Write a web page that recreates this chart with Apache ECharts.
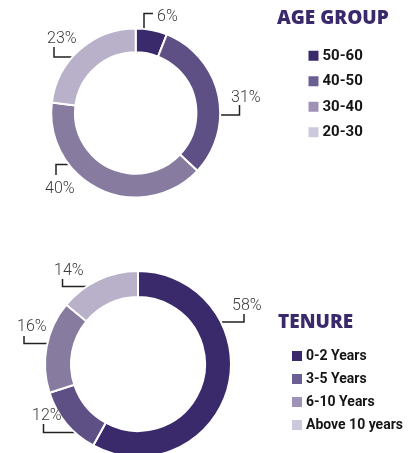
<!DOCTYPE html>
<html>
<head>
<meta charset="utf-8">
<script src="https://cdn.jsdelivr.net/npm/echarts@6/dist/echarts.min.js"></script>
<style>
  html, body { margin: 0; padding: 0; background: #fff; }
  #chart { width: 417px; height: 453px; }
</style>
</head>
<body>
<div id="chart"></div>
<script>
// data
const ageGroups = ['50-60', '40-50', '30-40', '20-30'];
const ageValues = [6, 31, 40, 23];
const tenureGroups = ['0-2 Years', '3-5 Years', '6-10 Years', 'Above 10 years'];
const tenureValues = [58, 12, 16, 14];

const pieColors = ['#3a2a6c', '#5e5085', '#877b9f', '#b9b1ca'];
const legendColors = ['#3b2a6b', '#6b5e95', '#9e93b7', '#cdc9dc'];

// label text anchor + leader line (start in ring, elbow, end)
const ageLabelPos = [
  { x: 157, y: 16.5, line: [[144, 35], [144, 13.5], [153, 13.5]] },
  { x: 231, y: 97.5, line: [[216, 115], [239.5, 115], [239.5, 105]] },
  { x: 45, y: 188.5, line: [[89, 164.5], [56, 164.5], [56, 175]] },
  { x: 47, y: 39, line: [[80.5, 57], [54, 57], [54, 47]] }
];
const tenureLabelPos = [
  { x: 232, y: 305.5, line: [[214, 322], [244, 322], [244, 314]] },
  { x: 32, y: 416, line: [[84, 432.5], [43.5, 432.5], [43.5, 424]] },
  { x: 17, y: 327, line: [[59, 343.5], [24, 343.5], [24, 336]] },
  { x: 54, y: 271, line: [[97, 286.5], [62.5, 286.5], [62.5, 279]] }
];

const chart = echarts.init(document.getElementById('chart'));

function makePie(name, cats, vals, center, radius, pos) {
  return {
    name: name,
    type: 'pie',
    center: center,
    radius: radius,
    startAngle: 90,
    avoidLabelOverlap: false,
    silent: true,
    itemStyle: { borderColor: '#fff', borderWidth: 2 },
    label: {
      show: true,
      position: 'outside',
      formatter: '{c}%',
      fontFamily: 'Roboto',
      fontWeight: 300,
      fontSize: 16,
      color: '#3a3a3a'
    },
    labelLine: {
      show: true,
      lineStyle: { color: '#222', width: 1.5 }
    },
    labelLayout: function (p) {
      const l = pos[p.dataIndex];
      return {
        x: l.x,
        y: l.y,
        align: 'left',
        verticalAlign: 'middle',
        labelLinePoints: l.line
      };
    },
    data: cats.map((c, i) => ({ name: c, value: vals[i], itemStyle: { color: pieColors[i] } }))
  };
}

function makeLegend(cats, left, top, fontSize, gap) {
  return {
    orient: 'vertical',
    left: left,
    top: top,
    padding: 0,
    itemWidth: 12,
    itemHeight: 12,
    itemGap: gap,
    icon: 'rect',
    selectedMode: false,
    textStyle: {
      fontFamily: 'Roboto',
      fontWeight: 'bold',
      fontSize: fontSize,
      lineHeight: 12,
      color: '#151515',
      padding: [0, 0, 0, -2]
    },
    data: cats.map((c, i) => ({ name: c, itemStyle: { color: legendColors[i] } }))
  };
}

chart.setOption({
  animation: false,
  title: [
    {
      text: 'AGE GROUP',
      left: 277,
      top: 10,
      padding: 0,
      textStyle: { fontFamily: 'Open Sans', fontWeight: 800, fontSize: 19, lineHeight: 18, color: '#3b2a6b' }
    },
    {
      text: 'TENURE',
      left: 278,
      top: 314,
      padding: 0,
      textStyle: { fontFamily: 'Open Sans', fontWeight: 800, fontSize: 19, lineHeight: 18, color: '#3b2a6b' }
    }
  ],
  legend: [
    makeLegend(ageGroups, 306.5, 48.3, 15, 10.5),
    makeLegend(tenureGroups, 290, 349, 14, 9)
  ],
  series: [
    makePie('age', ageGroups, ageValues, [135.7, 113], [60.7, 84.5], ageLabelPos),
    makePie('tenure', tenureGroups, tenureValues, [138, 364], [67, 93], tenureLabelPos)
  ]
});
</script>
</body>
</html>
